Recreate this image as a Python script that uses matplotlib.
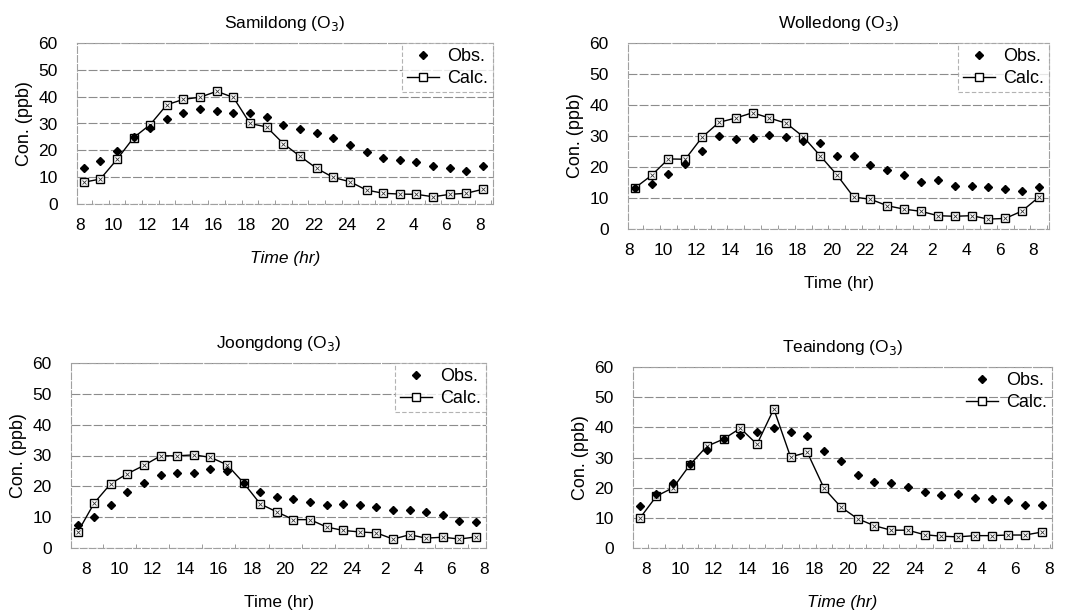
import matplotlib
matplotlib.use("Agg")
import matplotlib.pyplot as plt
from matplotlib.ticker import FixedLocator

plt.rcParams["font.family"] = ["Liberation Sans", "DejaVu Sans"]

# ── data (hourly, 08h day 1 → 08h day 2) ──
hour_labels = ["8", "10", "12", "14", "16", "18", "20", "22", "24", "2", "4", "6", "8"]

samildong_obs = [13.5, 16, 19.8, 25, 28.4, 31.8, 34, 35.3, 34.6, 34, 34, 32.5, 29.4,
                 28.1, 26.3, 24.7, 21.9, 19.2, 17, 16.4, 15.7, 14.1, 13.3, 12.4, 14.1]
samildong_calc = [8.1, 9.3, 16.6, 24.7, 29.6, 37, 39, 39.8, 42, 39.7, 30, 28.7, 22.5,
                  17.8, 13.3, 9.9, 8.3, 5.2, 4, 3.7, 3.6, 2.7, 3.6, 4, 5.5]

wolledong_obs = [13.2, 14.6, 17.8, 20.9, 25.3, 30, 28.9, 29.3, 30.4, 29.6, 28.3, 27.7, 23.6,
                 23.4, 20.6, 19.1, 17.5, 15.3, 15.9, 13.9, 13.9, 13.7, 12.9, 12.3, 13.4]
wolledong_calc = [13.2, 17.3, 22.6, 22.5, 29.6, 34.4, 35.8, 37.5, 35.8, 34.1, 29.8, 23.7, 17.5,
                  10.3, 9.6, 7.5, 6.4, 5.7, 4.3, 4.1, 4.3, 3.2, 3.4, 5.8, 10.3]

joongdong_obs = [7.6, 10.1, 13.8, 18.1, 21, 23.6, 24.3, 24.3, 25.7, 24.9, 21.1, 18.1, 16.5,
                 15.9, 14.8, 13.8, 14.3, 14.1, 13.3, 12.4, 12.4, 11.7, 10.8, 8.9, 8.4]
joongdong_calc = [5.1, 14.6, 20.9, 24.1, 26.8, 29.9, 29.9, 30.2, 29.4, 27, 21.1, 14.3, 11.7,
                  9.2, 9.2, 6.8, 5.7, 5.2, 4.9, 2.9, 4.3, 3.2, 3.5, 2.9, 3.6]

teaindong_obs = [13.9, 17.8, 21.7, 27.8, 32.6, 36.1, 37.6, 38.3, 39.7, 38.6, 37, 32.2, 28.7,
                 24.2, 21.9, 21.4, 20.3, 18.7, 17.6, 18, 16.7, 16.1, 15.8, 14.2, 14.4]
teaindong_calc = [9.8, 17.2, 20, 27.6, 33.7, 36.1, 39.7, 34.4, 46.1, 30.2, 31.7, 19.8, 13.6,
                  9.7, 7.4, 5.9, 5.9, 4.4, 3.9, 3.7, 4.1, 4.1, 4.3, 4.3, 5.3]

W, H = 1074, 614
fig = plt.figure(figsize=(W / 100, H / 100), dpi=100)

GRID = "#8c8c8c"


def panel(box, title, obs, calc, tick_shift, italic_xlabel, legend_frame):
    """box = (left, top, right, bottom) in pixels."""
    l, t, r, b = box
    ax = fig.add_axes([l / W, 1 - b / H, (r - l) / W, (b - t) / H])
    n = len(obs)
    x = list(range(n))
    ax.plot(x, calc, color="black", lw=1.0, marker="s", ms=6,
            mfc="white", mec="black", mew=1.0, label="Calc.", zorder=3)
    ax.plot(x, calc, ls="none", marker="x", ms=3.5, mec="#333333", mew=0.6, zorder=4)
    ax.plot(x, obs, ls="none", marker="D", ms=4.5, color="black", label="Obs.", zorder=4)

    ax.set_xlim(-0.4, n - 0.4)
    ax.set_ylim(0, 60)
    ax.set_yticks(range(0, 61, 10))
    ticks = [i + tick_shift for i in range(0, n, 2)]
    ax.set_xticks(ticks)
    ax.set_xticklabels(hour_labels)
    ax.xaxis.set_minor_locator(FixedLocator([i + 0.5 for i in range(-1, n)]))
    ax.tick_params(axis="x", which="major", length=0, pad=10, labelsize=12.5)
    ax.tick_params(axis="x", which="minor", direction="in", length=3, color=GRID)
    ax.tick_params(axis="y", length=0, pad=14, labelsize=12.5)
    ax.grid(axis="y", color=GRID, lw=0.8, ls=(0, (8, 2)))
    for s in ax.spines.values():
        s.set_color("#a0a0a0")
        s.set_linestyle((0, (6, 2)))
        s.set_linewidth(0.8)

    ax.set_title(title, fontsize=12.5, pad=11)
    ax.set_ylabel("Con. (ppb)", fontsize=13, labelpad=4)
    ax.set_xlabel("Time (hr)", fontsize=12.5, labelpad=13,
                  style="italic" if italic_xlabel else "normal")

    handles, labels = ax.get_legend_handles_labels()
    order = [labels.index("Obs."), labels.index("Calc.")]
    leg = ax.legend([handles[i] for i in order], [labels[i] for i in order],
                    loc="upper right", fontsize=13, frameon=legend_frame,
                    fancybox=False, borderaxespad=0.0, handlelength=1.8,
                    handletextpad=0.4, labelspacing=0.25, borderpad=0.3)
    if legend_frame:
        leg.get_frame().set_edgecolor("#a0a0a0")
        leg.get_frame().set_linewidth(0.8)
        leg.get_frame().set_linestyle((0, (4, 2)))
    return ax


panel((77, 43, 493, 204), r"Samildong (O$_{3}$)", samildong_obs, samildong_calc,
      -0.2, True, True)
panel((628, 43, 1049, 229), r"Wolledong (O$_{3}$)", wolledong_obs, wolledong_calc,
      -0.33, False, True)
panel((71, 363, 486, 548), r"Joongdong (O$_{3}$)", joongdong_obs, joongdong_calc,
      0.5, False, True)
panel((633, 367, 1052, 548), r"Teaindong (O$_{3}$)", teaindong_obs, teaindong_calc,
      0.4, True, False)

fig.savefig("out.png", dpi=100, facecolor="white")
